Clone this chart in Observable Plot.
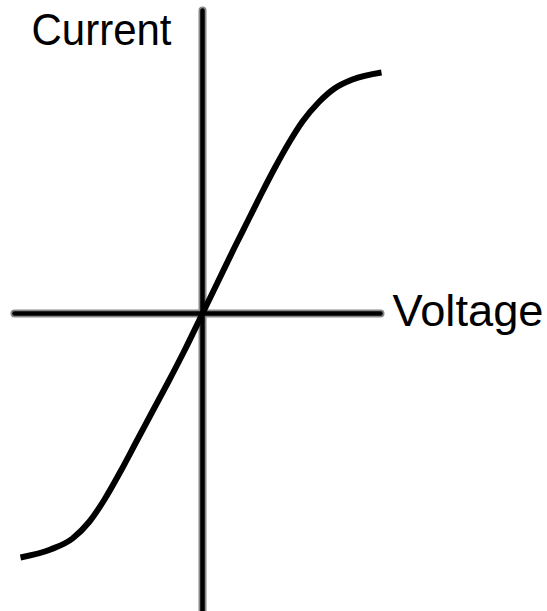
<!DOCTYPE html>
<html>
<head>
<meta charset="utf-8">
<script src="https://cdn.jsdelivr.net/npm/d3@7"></script>
<script src="https://cdn.jsdelivr.net/npm/@observablehq/plot@0.6"></script>
<style>
  html, body { margin: 0; padding: 0; background: #fff; }
  #chart svg { display: block; }
</style>
</head>
<body>
<div id="chart"></div>
<script>
// I–V curve (arbitrary units, origin at the axes crossing)
const voltage = [-18.2, -15.2, -13.0, -11.3, -9.8, -8.2, -6.5, -4.9, -3.4, -1.8, 0, 1.7, 3.2, 4.6, 5.9, 7.2, 8.6, 10.0, 11.6, 13.2, 15.0, 17.9];
const current = [-24.4, -23.6, -22.5, -20.8, -18.6, -15.8, -12.6, -9.6, -6.8, -3.7, 0, 3.5, 6.6, 9.4, 12.0, 14.5, 17.0, 19.2, 21.1, 22.5, 23.4, 24.1];

// axis extents (same units)
const hAxisVoltage = [-18.8, 17.8];
const vAxisCurrent = [-29.8, 30.3];

// axis labels
const labelTexts = ["Current", "Voltage"];
const labelVoltage = [-17.1, 19.0];
const labelCurrent = [30.0, 1.9];

const curve = voltage.map((v, i) => ({v, c: current[i]}));
const hAxis = hAxisVoltage.map(v => ({v, c: 0}));
const vAxis = vAxisCurrent.map(c => ({v: 0, c}));
const labels = labelTexts.map((t, i) => ({t, v: labelVoltage[i], c: labelCurrent[i]}));

const font = "'Liberation Sans', Arial, sans-serif";

const chart = Plot.plot({
  width: 547,
  height: 611,
  margin: 0,
  style: {background: "#fff", overflow: "visible"},
  x: {domain: [-20.2, 34.5], axis: null},
  y: {domain: [-29.8, 31.3], axis: null},
  marks: [
    Plot.line(hAxis, {x: "v", y: "c", stroke: "#888", strokeWidth: 8}),
    Plot.line(vAxis, {x: "v", y: "c", stroke: "#888", strokeWidth: 8}),
    Plot.line(hAxis, {x: "v", y: "c", stroke: "#000", strokeWidth: 4.5}),
    Plot.line(vAxis, {x: "v", y: "c", stroke: "#000", strokeWidth: 4.5}),
    Plot.line(curve, {x: "v", y: "c", stroke: "#000", strokeWidth: 6, curve: "monotone-x", strokeLinecap: "butt"}),
    Plot.text(labels, {x: "v", y: "c", text: "t", textAnchor: "start", lineAnchor: "top",
      fontSize: 45, fill: "#000", fontFamily: font, className: "axis-label"})
  ]
});
document.getElementById("chart").appendChild(chart);

// fit the labels to the narrow widths seen in the reference
const labelWidths = {"Current": 140, "Voltage": 151};
d3.select(chart).selectAll(".axis-label text").each(function() {
  const t = this.textContent;
  if (labelWidths[t]) {
    this.setAttribute("textLength", labelWidths[t]);
    this.setAttribute("lengthAdjust", "spacingAndGlyphs");
  }
});
</script>
</body>
</html>
